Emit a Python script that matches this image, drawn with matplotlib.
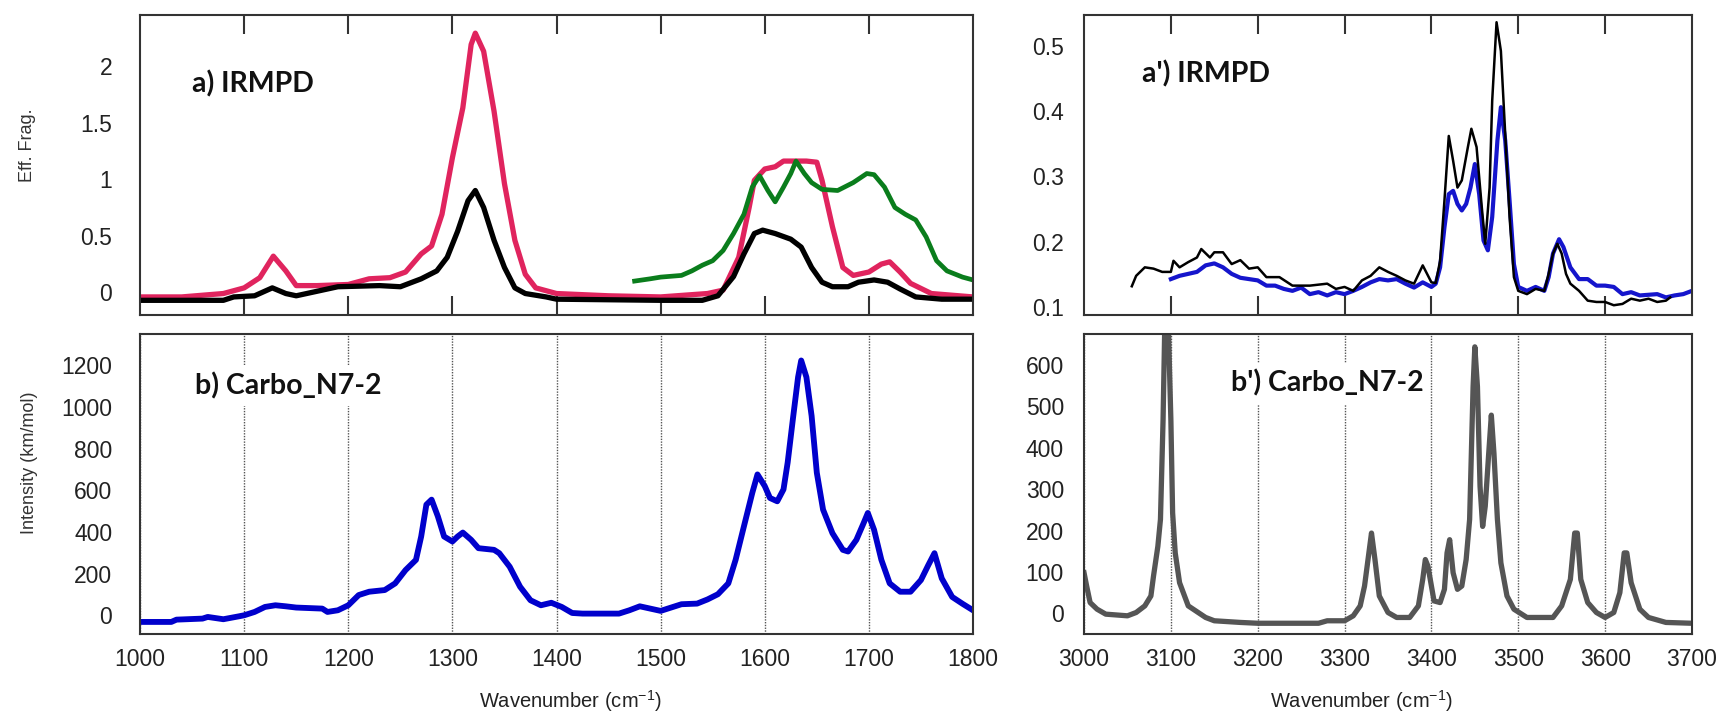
import numpy as np
import matplotlib
matplotlib.use("Agg")
import matplotlib.pyplot as plt
from matplotlib import font_manager

# ---- a) IRMPD, 1000-1800 cm-1 ----
red_x = [1000, 1040, 1080, 1100, 1115, 1128, 1140, 1150, 1170, 1200, 1220, 1240, 1255, 1270,
         1280, 1290, 1300, 1310, 1318, 1322, 1330, 1340, 1350, 1360, 1370, 1380, 1400, 1450,
         1500, 1545, 1560, 1575, 1585, 1590, 1600, 1610, 1618, 1640, 1650, 1655, 1665, 1675,
         1685, 1700, 1712, 1720, 1730, 1740, 1760, 1800]
red_y = [-0.04, -0.04, -0.01, 0.04, 0.13, 0.32, 0.19, 0.06, 0.06, 0.07, 0.12, 0.13, 0.18, 0.34,
         0.41, 0.69, 1.19, 1.63, 2.19, 2.29, 2.13, 1.60, 0.96, 0.46, 0.16, 0.04, -0.01, -0.03,
         -0.04, -0.01, 0.02, 0.31, 0.75, 0.99, 1.09, 1.11, 1.16, 1.16, 1.15, 0.99, 0.58, 0.22,
         0.15, 0.18, 0.25, 0.27, 0.18, 0.08, -0.01, -0.04]

black_x = [1000, 1080, 1090, 1110, 1127, 1140, 1150, 1170, 1190, 1230, 1250, 1270, 1285, 1295,
           1305, 1315, 1322, 1330, 1340, 1350, 1360, 1370, 1390, 1400, 1500, 1540, 1555, 1570,
           1580, 1590, 1598, 1610, 1625, 1635, 1645, 1655, 1665, 1680, 1690, 1705, 1718, 1730,
           1745, 1770, 1800]
black_y = [-0.07, -0.07, -0.04, -0.03, 0.04, -0.01, -0.03, 0.01, 0.05, 0.06, 0.05, 0.12, 0.19, 0.31,
           0.54, 0.81, 0.90, 0.75, 0.46, 0.22, 0.04, -0.01, -0.04, -0.06, -0.07, -0.07, -0.03, 0.14,
           0.34, 0.52, 0.55, 0.52, 0.47, 0.40, 0.22, 0.09, 0.05, 0.05, 0.09, 0.11, 0.09, 0.03,
           -0.04, -0.06, -0.06]

green_x = [1475, 1490, 1500, 1520, 1530, 1540, 1550, 1560, 1570, 1580, 1588, 1595, 1603, 1610,
           1618, 1625, 1630, 1638, 1645, 1655, 1670, 1685, 1698, 1705, 1715, 1725, 1735, 1745,
           1755, 1765, 1775, 1790, 1800]
green_y = [0.10, 0.12, 0.135, 0.15, 0.19, 0.24, 0.28, 0.37, 0.52, 0.69, 0.93, 1.03, 0.90, 0.80,
           0.93, 1.05, 1.16, 1.05, 0.97, 0.91, 0.90, 0.97, 1.05, 1.04, 0.93, 0.75, 0.69, 0.64,
           0.49, 0.28, 0.19, 0.135, 0.11]

# ---- b) Carbo_N7-2 computed, 1000-1800 cm-1 ----
calc_x = [1000, 1030, 1035, 1060, 1065, 1080, 1095, 1100, 1110, 1120, 1130, 1140, 1150, 1175,
          1180, 1190, 1200, 1210, 1220, 1235, 1245, 1255, 1265, 1270, 1275, 1280, 1286, 1292,
          1300, 1305, 1310, 1318, 1325, 1340, 1345, 1355, 1365, 1375, 1385, 1395, 1405, 1415,
          1425, 1460, 1470, 1480, 1490, 1500, 1510, 1520, 1535, 1545, 1555, 1565, 1572, 1580,
          1588, 1593, 1600, 1605, 1612, 1618, 1622, 1627, 1632, 1635, 1640, 1645, 1650, 1656,
          1665, 1675, 1680, 1688, 1695, 1699, 1705, 1712, 1720, 1730, 1740, 1750, 1757, 1763,
          1770, 1780, 1790, 1800]
calc_y = [-32, -32, -21, -16, -8, -19, -5, 0, 16, 40, 48, 43, 37, 32,
          16, 24, 48, 97, 113, 121, 153, 217, 266, 378, 531, 555, 475, 378,
          354, 378, 397, 362, 322, 314, 298, 233, 137, 72, 48, 60, 40, 11,
          8, 8, 24, 43, 32, 21, 37, 53, 56, 76, 101, 153, 266, 427,
          587, 676, 620, 563, 547, 604, 733, 941, 1143, 1223, 1143, 957, 684, 507,
          394, 314, 306, 362, 443, 491, 410, 266, 153, 113, 113, 169, 240, 298,
          177, 88, 55, 24]

# ---- a') IRMPD, 3000-3700 cm-1 ----
blk2_x = [3055, 3060, 3070, 3080, 3090, 3100, 3103, 3110, 3120, 3130, 3135, 3145, 3150, 3160,
          3170, 3180, 3190, 3200, 3210, 3225, 3240, 3260, 3280, 3290, 3300, 3310, 3320, 3330,
          3340, 3350, 3360, 3370, 3380, 3390, 3395, 3400, 3405, 3410, 3415, 3420, 3425, 3430,
          3435, 3442, 3446, 3452, 3458, 3462, 3467, 3470, 3475, 3480, 3485, 3490, 3495, 3500,
          3510, 3520, 3530, 3535, 3540, 3545, 3550, 3555, 3560, 3570, 3580, 3590, 3600, 3610,
          3620, 3630, 3640, 3650, 3660, 3670, 3675]
blk2_y = [0.132, 0.148, 0.161, 0.159, 0.154, 0.154, 0.171, 0.161, 0.169, 0.176, 0.189, 0.176, 0.184, 0.184,
          0.166, 0.172, 0.159, 0.161, 0.146, 0.146, 0.133, 0.133, 0.136, 0.128, 0.131, 0.125, 0.141, 0.148,
          0.161, 0.154, 0.148, 0.141, 0.136, 0.164, 0.151, 0.138, 0.137, 0.171, 0.263, 0.362, 0.324, 0.283,
          0.294, 0.345, 0.373, 0.345, 0.253, 0.197, 0.283, 0.416, 0.536, 0.492, 0.365, 0.238, 0.146, 0.125,
          0.120, 0.128, 0.125, 0.151, 0.182, 0.197, 0.182, 0.151, 0.136, 0.125, 0.110, 0.108, 0.108, 0.103,
          0.105, 0.113, 0.110, 0.113, 0.108, 0.110, 0.115]

blue2_x = [3100, 3110, 3120, 3130, 3140, 3150, 3160, 3170, 3180, 3190, 3200, 3210, 3220, 3230,
           3240, 3250, 3260, 3270, 3280, 3290, 3300, 3310, 3320, 3330, 3340, 3350, 3360, 3370,
           3380, 3390, 3400, 3405, 3410, 3415, 3420, 3425, 3430, 3435, 3440, 3445, 3450, 3455,
           3460, 3465, 3470, 3476, 3480, 3485, 3490, 3495, 3500, 3510, 3520, 3530, 3535, 3540,
           3547, 3552, 3560, 3570, 3580, 3590, 3600, 3610, 3620, 3630, 3640, 3660, 3670, 3680,
           3690, 3700]
blue2_y = [0.143, 0.148, 0.151, 0.154, 0.164, 0.167, 0.161, 0.151, 0.145, 0.143, 0.141, 0.133, 0.133, 0.128,
           0.125, 0.130, 0.120, 0.123, 0.118, 0.123, 0.120, 0.125, 0.131, 0.138, 0.143, 0.141, 0.143, 0.136,
           0.130, 0.138, 0.131, 0.136, 0.161, 0.222, 0.273, 0.278, 0.258, 0.248, 0.258, 0.283, 0.319, 0.273,
           0.202, 0.187, 0.238, 0.355, 0.406, 0.355, 0.263, 0.166, 0.131, 0.125, 0.131, 0.125, 0.146, 0.182,
           0.204, 0.192, 0.161, 0.143, 0.143, 0.133, 0.133, 0.131, 0.120, 0.123, 0.118, 0.120, 0.115, 0.118,
           0.120, 0.125]

# ---- b') Carbo_N7-2 computed, 3000-3700 cm-1 ----
calc2_x = [3000, 3003, 3007, 3015, 3025, 3050, 3060, 3070, 3077, 3080, 3085, 3088, 3091, 3093,
           3097, 3100, 3102, 3105, 3110, 3120, 3140, 3150, 3180, 3200, 3270, 3280, 3300, 3310,
           3318, 3323, 3328, 3331, 3335, 3340, 3350, 3360, 3375, 3385, 3390, 3393, 3396, 3400,
           3403, 3410, 3415, 3418, 3421, 3425, 3430, 3435, 3440, 3444, 3448, 3450, 3453, 3456,
           3459, 3462, 3466, 3469, 3472, 3476, 3480, 3487, 3495, 3510, 3540, 3550, 3560, 3565,
           3568, 3572, 3580, 3590, 3600, 3610, 3617, 3622, 3625, 3630, 3640, 3650, 3670, 3700]
calc2_y = [98, 66, 26, 10, -2, -6, 2, 18, 42, 90, 162, 227, 467, 700,
           700, 467, 243, 146, 74, 18, -10, -18, -22, -24, -24, -18, -18, -6,
           18, 66, 146, 194, 130, 42, 2, -10, -10, 18, 82, 130, 114, 66,
           30, 26, 58, 146, 178, 98, 58, 66, 130, 227, 548, 644, 548, 307,
           210, 259, 387, 479, 387, 227, 122, 42, 10, -10, -10, 18, 82, 194,
           194, 82, 26, 2, -10, 2, 50, 146, 146, 74, 10, -10, -22, -24]

# fonts: narrow face for the axis titles if it is there
installed = {f.name for f in font_manager.fontManager.ttflist}
HAS_NARROW = "Liberation Sans Narrow" in installed
XLABEL_FONT = "Liberation Sans Narrow" if HAS_NARROW else "Liberation Sans"
XLABEL_SIZE = 18 if HAS_NARROW else 14.5
LABEL_FONT = ["Lato", "DejaVu Sans"]

plt.rcParams.update({
    "font.family": ["Liberation Sans", "DejaVu Sans"],
    "mathtext.fontset": "custom",
    "mathtext.rm": XLABEL_FONT,
    "mathtext.it": XLABEL_FONT,
    "axes.linewidth": 1.5,
    "axes.edgecolor": "#333333",
    "xtick.color": "#333333",
    "ytick.color": "#333333",
    "xtick.labelcolor": "#222222",
    "ytick.labelcolor": "#222222",
    "xtick.labelsize": 16.5,
    "ytick.labelsize": 16.5,
})

fig = plt.figure(figsize=(17.27, 7.16), dpi=100)

L_LEFT, L_W = 0.0811, 0.4823
R_LEFT, R_W = 0.6277, 0.3520
TOP_B, BOT_B, H = 0.560, 0.1145, 0.419

ax_a = fig.add_axes([L_LEFT, TOP_B, L_W, H])
ax_b = fig.add_axes([L_LEFT, BOT_B, L_W, H])
ax_a2 = fig.add_axes([R_LEFT, TOP_B, R_W, H])
ax_b2 = fig.add_axes([R_LEFT, BOT_B, R_W, H])

# top panels
ax_a.plot(red_x, red_y, color="#e0245e", lw=3.8)
ax_a.plot(green_x, green_y, color="#0a7d1c", lw=3.4)
ax_a.plot(black_x, black_y, color="#000000", lw=3.8)
ax_a.set_xlim(1000, 1800)
ax_a.set_ylim(-0.2, 2.45)
ax_a.set_yticks([0, 0.5, 1, 1.5, 2])
ax_a.set_yticklabels(["0", "0.5", "1", "1.5", "2"])
ax_a.set_xticks(np.arange(1100, 1800, 100))

ax_a2.plot(blue2_x, blue2_y, color="#1515cc", lw=3.0)
ax_a2.plot(blk2_x, blk2_y, color="#000000", lw=1.8)
ax_a2.set_xlim(3000, 3700)
ax_a2.set_ylim(0.088, 0.547)
ax_a2.set_yticks([0.1, 0.2, 0.3, 0.4, 0.5])
ax_a2.set_xticks(np.arange(3100, 3700, 100))

for ax in (ax_a, ax_a2):
    ax.tick_params(axis="x", direction="in", top=True, bottom=True, length=14, width=1.5,
                   labelbottom=False)

# bottom panels
ax_b.plot(calc_x, calc_y, color="#0000cc", lw=4.2)
ax_b.set_xlim(1000, 1800)
ax_b.set_ylim(-90, 1350)
ax_b.set_yticks(np.arange(0, 1201, 200))
ax_b.set_xticks(np.arange(1000, 1801, 100))

ax_b2.plot(calc2_x, calc2_y, color="#555555", lw=3.8)
ax_b2.set_xlim(3000, 3700)
ax_b2.set_ylim(-50, 675)
ax_b2.set_yticks(np.arange(0, 601, 100))
ax_b2.set_xticks(np.arange(3000, 3701, 100))

for ax in (ax_b, ax_b2):
    ax.grid(axis="x", color="#555555", linestyle=(0, (1, 1)), lw=1.0)
    ax.tick_params(axis="x", length=0, pad=10)
    ax.set_xlabel("Wavenumber (cm$^{-1}$)", fontsize=XLABEL_SIZE, color="#222222",
                  family=XLABEL_FONT)

ax_b.xaxis.set_label_coords(0.517, -0.18)
ax_b2.xaxis.set_label_coords(0.456, -0.18)

for ax in (ax_a, ax_b):
    ax.tick_params(axis="y", length=0, pad=20)
for ax in (ax_a2, ax_b2):
    ax.tick_params(axis="y", length=0, pad=14.5)

# panel labels
bold = dict(family=LABEL_FONT, fontweight="bold", fontsize=20.5, color="#111111",
            va="center", ha="left")
ax_a.text(1050, 1.84, "a) IRMPD", **bold)
ax_b.text(1053, 1102, "b) Carbo_N7-2", zorder=3,
          bbox=dict(facecolor="white", edgecolor="none", pad=5), **bold)
ax_a2.text(3067, 0.457, "a') IRMPD", **bold)
ax_b2.text(3169, 556, "b') Carbo_N7-2", zorder=3,
           bbox=dict(facecolor="white", edgecolor="none", pad=5), **bold)

# y axis titles
fig.text(28 / 1727, 1 - 145 / 716, "Eff. Frag.", rotation=90, ha="center", va="center",
         fontsize=13, color="#333333")
fig.text(30 / 1727, 1 - 463 / 716, "Intensity (km/mol)", rotation=90, ha="center",
         va="center", fontsize=13, color="#333333")

fig.savefig("out.png", dpi=100)
